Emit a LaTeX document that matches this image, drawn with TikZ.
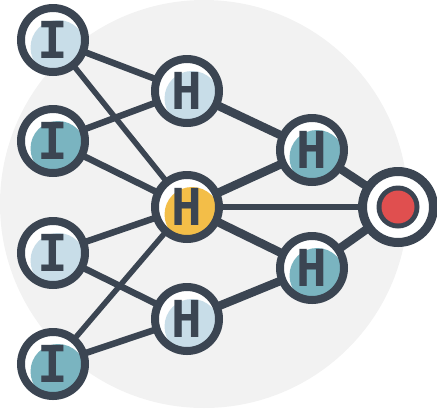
\documentclass[tikz,border=0pt]{standalone}
\usepackage{fontspec}
\usepackage{xcolor}
\usepackage{tikz}
\usetikzlibrary{positioning}
\usetikzlibrary{backgrounds}

\newfontfamily\unitfont{DejaVu Sans Mono}

\definecolor{ink}{HTML}{3B4552}
\definecolor{pale}{HTML}{C8DDE8}
\definecolor{sea}{HTML}{7AB4C0}
\definecolor{amber}{HTML}{F3BE48}
\definecolor{signal}{HTML}{E04F4F}
\definecolor{backdrop}{HTML}{F2F2F2}

\tikzset{
  unit/.style={circle, draw=ink, fill=white, line width=0.16cm,
    minimum size=1.28cm, inner sep=0pt, text=ink,
    font=\unitfont\bfseries\fontsize{29}{29}\selectfont,
    path picture={\fill[#1] ([shift={(0.1,-0.15)}]path picture bounding box.center) circle (0.55);}},
  output/.style={circle, draw=ink, fill=white, line width=0.18cm,
    minimum size=1.42cm, inner sep=0pt,
    path picture={\fill[ink] (path picture bounding box.center) circle (0.43);
      \fill[signal] (path picture bounding box.center) circle (0.33);}},
  link/.style={draw=ink, line width=0.13cm},
  heavy/.style={draw=ink, line width=0.17cm},
  slim/.style={draw=ink, line width=0.11cm}
}

\begin{document}
\begin{tikzpicture}[on grid]

  \useasboundingbox (0,0) rectangle (8.74,-8.16);

  % Define nodes
  \node[unit=pale] (i1) at (1.06,-0.80) {I};
  \node[unit=sea, below=2.02cm of i1] (i2) {I};
  \node[unit=pale, below=2.24cm of i2] (i3) {I};
  \node[unit=sea, below=2.22cm of i3] (i4) {I};

  \node[unit=pale, below right=1.02cm and 2.68cm of i1] (h1) {H};
  \node[unit=amber, below=2.32cm of h1] (h2) {H};
  \node[unit=pale, below=2.24cm of h2] (h3) {H};

  \node[unit=sea, above right=1.14cm and 2.5cm of h2] (h4) {H};
  \node[unit=sea, below right=1.22cm and 2.5cm of h2] (h5) {H};

  \node[output, right=4.22cm of h2] (out) {};

  % Connect nodes
  \begin{scope}[on background layer]
    \fill[backdrop] (4.08,-4.08) circle (4.08);

    \draw[link] (i1.center) -- (h1.center);
    \draw[slim] (i1.center) -- (h2.center);
    \draw[link] (i2.center) -- (h1.center);
    \draw[link] (i2.center) -- (h2.center);
    \draw[link] (i3.center) -- (h2.center);
    \draw[link] (i3.center) -- (h3.center);
    \draw[slim] (i4.center) -- (h2.center);
    \draw[link] (i4.center) -- (h3.center);

    \draw[heavy] (h1.center) -- (h4.center);
    \draw[heavy] (h2.center) -- (h4.center);
    \draw[heavy] (h2.center) -- (h5.center);
    \draw[heavy] (h3.center) -- (h5.center);

    \draw[slim] (h2.center) -- (out.center);
    \draw[heavy] (h4.center) -- (out.center);
    \draw[heavy] (h5.center) -- (out.center);
  \end{scope}

\end{tikzpicture}
\end{document}
